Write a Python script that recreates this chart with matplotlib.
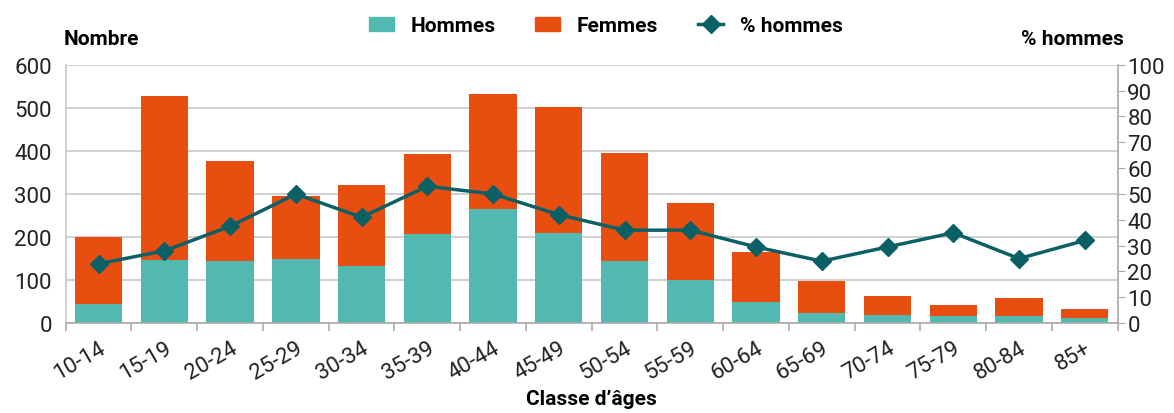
import numpy as np
import matplotlib
matplotlib.use("Agg")
import matplotlib.pyplot as plt
from matplotlib.lines import Line2D
from matplotlib.patches import Patch

plt.rcParams['font.family'] = ['Roboto', 'Liberation Sans', 'DejaVu Sans']

# Données
classes = ["10-14", "15-19", "20-24", "25-29", "30-34", "35-39", "40-44", "45-49",
           "50-54", "55-59", "60-64", "65-69", "70-74", "75-79", "80-84", "85+"]
hommes = [45, 147, 144, 149, 133, 207, 265, 209, 144, 100, 49, 24, 19, 16, 16, 11]
femmes = [155, 381, 233, 146, 188, 186, 268, 293, 251, 180, 116, 74, 44, 27, 42, 22]
pct_hommes = [23, 28, 37.5, 50, 41, 53, 50, 42, 36, 36, 29.5, 24, 29.5, 35, 25, 32]

teal = "#52B9B0"
orange = "#E84E0F"
ligne = "#0B6066"
gris = "#C8C8C8"

fig = plt.figure(figsize=(11.74, 4.14), dpi=100)
ax = fig.add_axes([0.056, 0.217, 0.896, 0.624])
x = np.arange(len(classes))

ax.bar(x, hommes, width=0.72, color=teal, zorder=2)
ax.bar(x, femmes, width=0.72, bottom=hommes, color=orange, zorder=2)

ax.set_xlim(-0.5, len(classes) - 0.5)
ax.set_ylim(0, 600)
ax.set_yticks(range(0, 601, 100))
ax.yaxis.grid(True, color=gris, linewidth=1.2, zorder=0)
ax.tick_params(axis='y', length=0, labelsize=16, pad=10, colors="#222222")

# graduations entre les classes
ax.set_xticks(np.arange(-0.5, len(classes), 1))
ax.set_xticklabels([])
ax.tick_params(axis='x', which='major', length=6, color="#AAAAAA", width=1.2)
ax.set_xticks(x, minor=True)
ax.set_xticklabels(classes, minor=True, rotation=30, ha='right', rotation_mode='anchor')
ax.tick_params(axis='x', which='minor', length=0, labelsize=16, pad=10, colors="#222222")

for s in ['top', 'right']:
    ax.spines[s].set_visible(False)
ax.spines['left'].set_color(gris)
ax.spines['bottom'].set_color("#AAAAAA")
ax.spines['left'].set_linewidth(1.2)
ax.spines['bottom'].set_linewidth(1.2)

ax2 = ax.twinx()
ax2.plot(x, pct_hommes, color=ligne, linewidth=2.5, marker='D', markersize=9, zorder=3)
ax2.set_ylim(0, 100)
ax2.set_yticks(range(0, 101, 10))
ax2.tick_params(axis='y', length=5, color="#AAAAAA", labelsize=16, pad=2, labelcolor="#222222")
for s in ['top', 'left', 'bottom']:
    ax2.spines[s].set_visible(False)
ax2.spines['right'].set_color("#AAAAAA")
ax2.spines['right'].set_linewidth(1.2)

fig.text(0.054, 0.905, "Nombre", fontsize=15, fontweight='bold', ha='left', va='center')
fig.text(0.957, 0.905, "% hommes", fontsize=15, fontweight='bold', ha='right', va='center')
ax.set_xlabel("Classe d\u2019âges", fontsize=15, fontweight='bold', labelpad=4)

handles = [Patch(color=teal), Patch(color=orange),
           Line2D([0], [0], color=ligne, linewidth=2.5, marker='D', markersize=9)]
fig.legend(handles, ["Hommes", "Femmes", "% hommes"], loc='center', bbox_to_anchor=(0.516, 0.935),
           ncol=3, frameon=False, prop={'size': 15, 'weight': 'bold'},
           handlelength=1.2, columnspacing=1.9, handletextpad=0.8)

fig.savefig("out.png", dpi=100)
